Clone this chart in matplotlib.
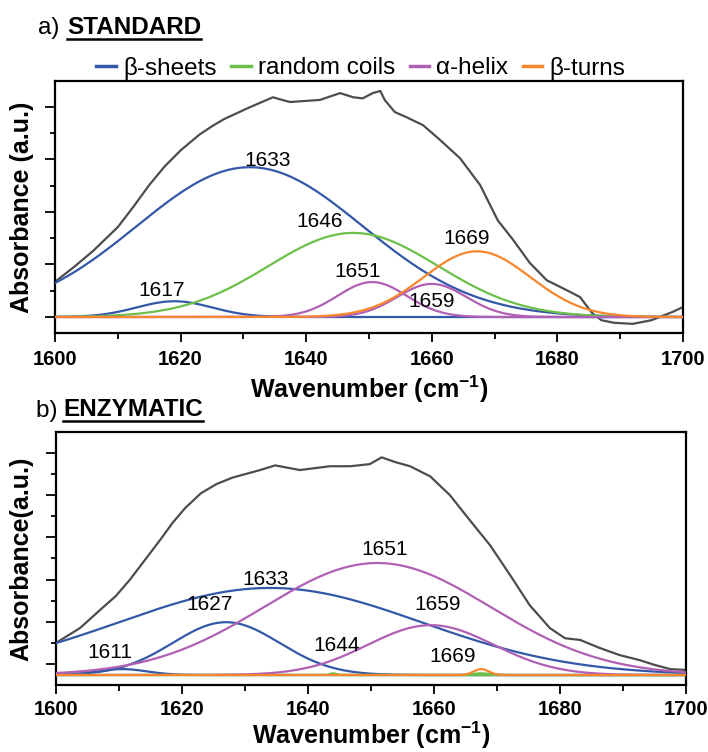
import numpy as np
import matplotlib
matplotlib.use('Agg')
import matplotlib.pyplot as plt
from matplotlib.lines import Line2D

plt.rcParams['font.family'] = ['Liberation Sans', 'DejaVu Sans']
plt.rcParams['mathtext.fontset'] = 'custom'
plt.rcParams['mathtext.rm'] = 'Liberation Sans'
plt.rcParams['mathtext.bf'] = 'Liberation Sans:bold'

# ---------------- data ----------------
series_names = ['\u03b2-sheets', 'random coils', '\u03b1-helix', '\u03b2-turns']
series_colors = ['#3358a8', '#6cc04a', '#b060b4', '#f7862d']

# a) STANDARD: measured spectrum
std_wn = [1600, 1603, 1606, 1608, 1610, 1612.5, 1615, 1617.5, 1620, 1623, 1625, 1627,
          1631, 1634.7, 1637.4, 1642.2, 1645.4, 1647.5, 1649, 1650.6, 1651.8, 1652.5,
          1654.1, 1656, 1658.6, 1661.3, 1664.5, 1667.7, 1670.5, 1673, 1675.6,
          1678.3, 1681.5, 1683.6, 1685.5, 1687, 1689, 1692, 1695, 1698.4, 1700]
std_abs = [0.067, 0.095, 0.125, 0.148, 0.171, 0.210, 0.251, 0.287, 0.317, 0.347,
           0.363, 0.377, 0.399, 0.418, 0.409, 0.413, 0.426, 0.418, 0.416, 0.426,
           0.430, 0.413, 0.390, 0.380, 0.365, 0.337, 0.302, 0.251, 0.184, 0.146,
           0.103, 0.070, 0.051, 0.038, 0.008, -0.006, -0.011, -0.013, -0.006,
           0.010, 0.019]
# fitted bands: (series index, centre, height, width)
std_bands_series = [0, 0, 1, 2, 2, 3]
std_bands_center = [1619.0, 1631.0, 1647.5, 1650.5, 1660.0, 1667.2]
std_bands_height = [0.030, 0.285, 0.160, 0.0665, 0.063, 0.125]
std_bands_width = [6.0, 18.0, 13.5, 5.5, 5.5, 8.5]
std_labels = ['1617', '1633', '1646', '1651', '1659', '1669']

# b) ENZYMATIC: measured spectrum
enz_wn = [1600, 1603.8, 1607, 1609.5, 1611.7, 1614, 1616.5, 1618.5, 1620.5, 1623,
          1625.5, 1628, 1632.4, 1634.8, 1638.7, 1643.5, 1646.7, 1649.8, 1651.7,
          1653.8, 1656.2, 1659.4, 1662.5, 1665.7, 1668.9, 1672.1, 1675.2, 1678.4,
          1680.8, 1683.2, 1686.3, 1689.5, 1692.7, 1695, 1697.5, 1700]
enz_abs = [0.076, 0.111, 0.154, 0.187, 0.225, 0.270, 0.319, 0.360, 0.395, 0.430,
           0.452, 0.467, 0.485, 0.496, 0.485, 0.494, 0.494, 0.499, 0.515, 0.504,
           0.494, 0.470, 0.426, 0.366, 0.307, 0.236, 0.165, 0.111, 0.087, 0.083,
           0.064, 0.047, 0.035, 0.024, 0.014, 0.012]
enz_bands_series = [0, 0, 0, 1, 1, 2, 2, 3]
enz_bands_center = [1610.5, 1627.0, 1634.0, 1644.0, 1667.5, 1651.0, 1659.5, 1667.5]
enz_bands_height = [0.014, 0.125, 0.206, 0.004, 0.004, 0.265, 0.118, 0.014]
enz_bands_width = [4.0, 8.5, 24.0, 0.5, 1.5, 18.0, 10.0, 1.2]
enz_labels = ['1611', '1627', '1633', '1644', '1651', '1659', '1669']

# ---------------- figure ----------------
W, H = 708, 752
fig = plt.figure(figsize=(W / 100, H / 100), dpi=100)


def box(l, t, r, b):
    return [l / W, 1 - b / H, (r - l) / W, (b - t) / H]


ax1 = fig.add_axes(box(55, 81, 683, 333))
ax2 = fig.add_axes(box(56, 432, 686, 685))

x = np.linspace(1600, 1700, 801)


def draw_panel(ax, wn, ab, ser, cen, hei, wid):
    ax.plot(wn, ab, color='#4d4d4d', lw=1.6, zorder=2, solid_joinstyle='round')
    handles = {}
    order = sorted(range(len(ser)), key=lambda i: ser[i])
    for i in order:
        s = ser[i]
        y = hei[i] * np.exp(-(x - cen[i]) ** 2 / (2 * wid[i] ** 2))
        ln, = ax.plot(x, y, color=series_colors[s], lw=1.6, zorder=3 + s)
        handles[s] = ln
    return [handles[k] for k in range(4)]


h1 = draw_panel(ax1, std_wn, std_abs, std_bands_series, std_bands_center,
                std_bands_height, std_bands_width)
h2 = draw_panel(ax2, enz_wn, enz_abs, enz_bands_series, enz_bands_center,
                enz_bands_height, enz_bands_width)

# annotations (data positions for the text)
std_lab_pos = [(1617.0, 0.051), (1633.9, 0.298), (1642.2, 0.181),
               (1648.2, 0.086), (1660.0, 0.030), (1665.6, 0.150)]
enz_lab_pos = [(1608.6, 0.054), (1624.4, 0.168), (1633.2, 0.225),
               (1644.5, 0.069), (1652.2, 0.298), (1660.6, 0.168), (1662.9, 0.043)]
for t, (px, py) in zip(std_labels, std_lab_pos):
    ax1.text(px, py, t, fontsize=15, ha='center', va='center', zorder=10)
for t, (px, py) in zip(enz_labels, enz_lab_pos):
    ax2.text(px, py, t, fontsize=15, ha='center', va='center', zorder=10)

for ax, pad in ((ax1, 5.5), (ax2, 4.0)):
    ax.set_xlim(1600, 1700)
    ax.set_xticks([1600, 1620, 1640, 1660, 1680, 1700])
    ax.set_xticks(np.arange(1610, 1700, 20), minor=True)
    ax.tick_params(axis='x', which='major', direction='out', length=6.5, width=1.3,
                   labelsize=14.5, pad=pad)
    ax.tick_params(axis='x', which='minor', direction='out', length=4, width=1.3)
    ax.tick_params(axis='y', which='major', direction='out', length=7, width=1.3,
                   labelleft=False)
    ax.tick_params(axis='y', which='minor', direction='out', length=3.6, width=1.3)
    for lab in ax.get_xticklabels():
        lab.set_fontweight('bold')
    for sp in ax.spines.values():
        sp.set_linewidth(1.6)
    ax.set_xlabel(r'Wavenumber (cm$^{\mathbf{-1}}$)', fontsize=18,
                  fontweight='bold')

ax1.set_ylim(-0.0304, 0.449)
ax1.set_yticks([0, 0.1, 0.2, 0.3, 0.4])
ax1.set_yticks([0.05, 0.15, 0.25, 0.35], minor=True)
ax1.set_ylabel('Absorbance (a.u.)', fontsize=18, fontweight='bold')

ax2.set_ylim(-0.0236, 0.575)
ax2.set_yticks([0.026, 0.126, 0.226, 0.326, 0.426, 0.526])
ax2.set_yticks([0.076, 0.176, 0.276, 0.376, 0.476], minor=True)
ax2.set_ylabel('Absorbance(a.u.)', fontsize=18, fontweight='bold')

ax1.xaxis.set_label_coords(0.5, -0.160)
ax2.xaxis.set_label_coords(0.5, -0.137)
ax1.yaxis.set_label_coords(-0.034, 0.5)
ax2.yaxis.set_label_coords(-0.036, 0.5)

leg = ax1.legend(h1, series_names, ncol=4, loc='center',
                 bbox_to_anchor=(361 / W, 1 - 68 / H), bbox_transform=fig.transFigure,
                 frameon=False, fontsize=17.5, handlelength=0.8, handletextpad=0.3,
                 columnspacing=0.6, borderpad=0, borderaxespad=0)
for ln in leg.get_lines():
    ln.set_linewidth(2.5)

# panel titles
ta = fig.text(38 / W, 1 - 34.3 / H, 'a) ', fontsize=17.5, va='baseline')
tA = fig.text(67 / W, 1 - 34.3 / H, 'STANDARD', fontsize=17.5, fontweight='bold',
              va='baseline')
tb = fig.text(36 / W, 1 - 416.5 / H, 'b) ', fontsize=17.5, va='baseline')
tB = fig.text(63 / W, 1 - 416.5 / H, 'ENZYMATIC', fontsize=17.5, fontweight='bold',
              va='baseline')

fig.canvas.draw()
r = fig.canvas.get_renderer()
inv = fig.transFigure.inverted()
for t, uy in ((tA, 38.5), (tB, 421)):
    bb = t.get_window_extent(r)
    (x0, _), (x1, _) = inv.transform([(bb.x0, 0), (bb.x1, 0)])
    fig.add_artist(Line2D([x0, x1], [1 - uy / H, 1 - uy / H], color='black',
                          lw=1.8, transform=fig.transFigure))

fig.savefig('out.png', dpi=100)
